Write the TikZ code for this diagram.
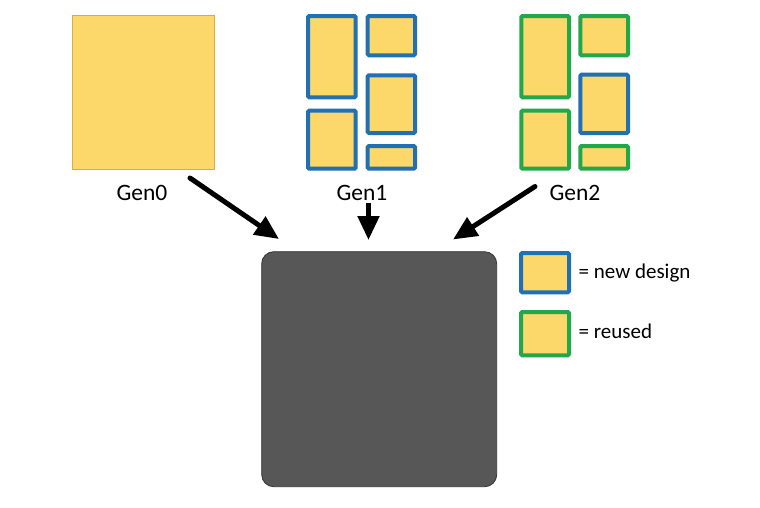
\documentclass[tikz,border=0pt]{standalone}
\usepackage{fontspec}
\setmainfont{Carlito}
\usetikzlibrary{arrows.meta}
\definecolor{yel}{HTML}{FCD769}
\definecolor{goldb}{HTML}{D9AE3A}
\definecolor{blu}{HTML}{2070B4}
\definecolor{grn}{HTML}{20A84A}
\definecolor{dark}{HTML}{575757}
\tikzset{
  blk/.style={fill=yel, line width=4pt, rounded corners=1.2pt, inner sep=0pt, outer sep=0pt},
  newblk/.style={blk, draw=blu},
  reublk/.style={blk, draw=grn},
  genlbl/.style={font=\fontsize{23.5}{26}\selectfont, inner sep=0pt},
  leglbl/.style={font=\fontsize{21}{24}\selectfont, inner sep=0pt, anchor=west},
  bigarrow/.style={line width=5pt, line cap=round, -{Triangle[length=24pt,width=21pt]}}
}
\begin{document}
\begin{tikzpicture}[x=1pt,y=-1pt]
\useasboundingbox (0,0) rectangle (760,507);
% Gen0
\node[fill=yel, draw=goldb, line width=0.8pt, minimum width=142pt, minimum height=154pt, inner sep=0pt] (g0) at (143,92) {};
\node[genlbl] (l0) at (142,193) {Gen0};
% Gen1
\node[newblk, minimum width=47.7pt, minimum height=81.3pt] (g1a) at (331.85,56.65) {};
\node[newblk, minimum width=47.3pt, minimum height=39.3pt] (g1b) at (391.35,35.65) {};
\node[newblk, minimum width=47.3pt, minimum height=57.7pt] (g1c) at (391.35,104.15) {};
\node[newblk, minimum width=47.7pt, minimum height=58pt] (g1d) at (331.85,139.7) {};
\node[newblk, minimum width=47.3pt, minimum height=22.7pt] (g1e) at (391.35,157.35) {};
\node[genlbl] (l1) at (362,193) {Gen1};
% Gen2
\node[reublk, minimum width=47.7pt, minimum height=81.3pt] (g2a) at (545.15,56.65) {};
\node[reublk, minimum width=47.7pt, minimum height=39.3pt] (g2b) at (604.15,35.65) {};
\node[newblk, minimum width=47.7pt, minimum height=58.3pt] (g2c) at (604.15,103.85) {};
\node[reublk, minimum width=47.7pt, minimum height=58pt] (g2d) at (545.15,139.7) {};
\node[reublk, minimum width=47.7pt, minimum height=22.7pt] (g2e) at (604.15,157.35) {};
\node[genlbl] (l2) at (575,193) {Gen2};
% chip
\node[fill=dark, draw=black!80, line width=0.8pt, rounded corners=12pt, minimum width=235pt, minimum height=235pt, inner sep=0pt] (chip) at (379.2,369.2) {};
% arrows
\coordinate (a0s) at (190,178);
\coordinate (a0e) at (279,239);
\coordinate (a1s) at (368.5,203);
\coordinate (a1e) at (368.5,240);
\coordinate (a2s) at (535,186.5);
\coordinate (a2e) at (453,239.5);
\draw[bigarrow] (a0s) -- (a0e);
\draw[bigarrow, line cap=butt] (a1s) -- (a1e);
\draw[bigarrow] (a2s) -- (a2e);
% legend
\node[newblk, minimum width=48pt, minimum height=39.3pt] (kn) at (545,272.65) {};
\node[reublk, minimum width=48pt, minimum height=43.3pt] (kr) at (545,333.65) {};
\node[leglbl] (tn) at (578.5,273) {= new design};
\node[leglbl] (tr) at (578.5,331.5) {= reused};
\end{tikzpicture}
\end{document}
